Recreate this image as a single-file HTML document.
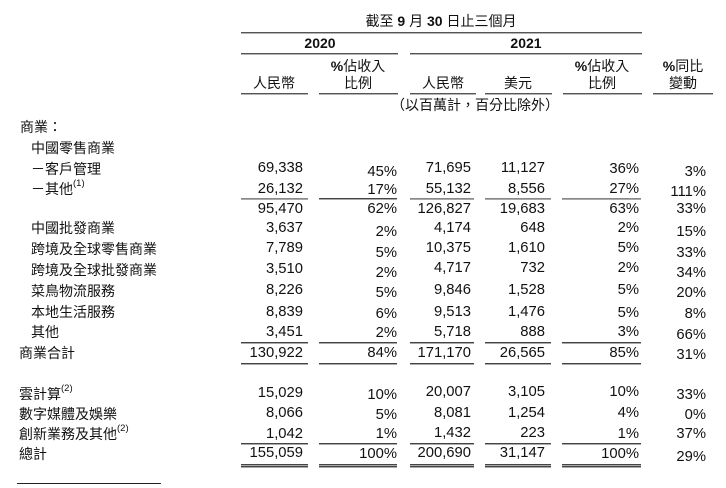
<!DOCTYPE html>
<html><head><meta charset="utf-8">
<style>
html,body{margin:0;padding:0;background:#fff;}
body{width:726px;height:488px;position:relative;overflow:hidden;font-family:"Liberation Sans","Noto Sans CJK TC",sans-serif;color:#111;}
.l{position:absolute;height:20px;line-height:20px;font-size:14px;white-space:nowrap;}
.n{position:absolute;height:20px;line-height:20px;font-size:14.8px;white-space:nowrap;text-align:right;}
.c{position:absolute;height:20px;line-height:20px;font-size:14px;white-space:nowrap;text-align:center;width:200px;}
.a{right:423px}.b{right:329px}.d{right:255px}.e{right:181px}.f{right:87px}.g{right:20px}
.hl{position:absolute;height:1px;background:#555;border-bottom:1px solid #b5b5b5;}
.dl{position:absolute;height:1px;background:#444;border-bottom:1px solid #aaa;}
sup{font-size:9.5px;vertical-align:top;line-height:12px;position:relative;top:-1px;}
b{font-weight:bold;}
</style></head><body>

<!-- header -->
<div class="c" style="left:341px;top:11px;">截至 <b>9</b> 月 <b>30</b> 日止三個月</div>
<div class="hl" style="left:241px;width:401px;top:32px;"></div>
<div class="c" style="left:220px;top:33px;"><b>2020</b></div>
<div class="c" style="left:426px;top:33px;"><b>2021</b></div>
<div class="hl" style="left:241px;width:157px;top:53px;"></div>
<div class="hl" style="left:410px;width:232px;top:53px;"></div>

<div class="c" style="left:258px;top:56px;"><b>%</b>佔收入</div>
<div class="c" style="left:502px;top:56px;"><b>%</b>佔收入</div>
<div class="c" style="left:583px;top:56px;"><b>%</b>同比</div>
<div class="c" style="left:174px;top:73px;">人民幣</div>
<div class="c" style="left:258px;top:73px;">比例</div>
<div class="c" style="left:343px;top:73px;">人民幣</div>
<div class="c" style="left:418px;top:73px;">美元</div>
<div class="c" style="left:502px;top:73px;">比例</div>
<div class="c" style="left:583px;top:73px;">變動</div>

<div class="hl" style="left:241px;width:67px;top:93px;"></div>
<div class="hl" style="left:319px;width:79px;top:93px;"></div>
<div class="hl" style="left:410px;width:66px;top:93px;"></div>
<div class="hl" style="left:485px;width:67px;top:93px;"></div>
<div class="hl" style="left:563px;width:79px;top:93px;"></div>
<div class="hl" style="left:653px;width:60px;top:93px;"></div>

<div class="c" style="left:375px;top:95px;">（以百萬計，百分比除外）</div>

<!-- labels -->
<div class="l" style="left:20px;top:117px;">商業：</div>
<div class="l" style="left:31px;top:138px;">中國零售商業</div>
<div class="l" style="left:31px;top:159px;">－客戶管理</div>
<div class="l" style="left:31px;top:179px;">－其他<sup>(1)</sup></div>
<div class="l" style="left:31px;top:218px;">中國批發商業</div>
<div class="l" style="left:31px;top:239px;">跨境及全球零售商業</div>
<div class="l" style="left:31px;top:260px;">跨境及全球批發商業</div>
<div class="l" style="left:31px;top:281px;">菜鳥物流服務</div>
<div class="l" style="left:31px;top:302px;">本地生活服務</div>
<div class="l" style="left:31px;top:322px;">其他</div>
<div class="l" style="left:19px;top:343px;">商業合計</div>
<div class="l" style="left:19px;top:384px;">雲計算<sup>(2)</sup></div>
<div class="l" style="left:19px;top:404px;">數字媒體及娛樂</div>
<div class="l" style="left:19px;top:424px;">創新業務及其他<sup>(2)</sup></div>
<div class="l" style="left:19px;top:444px;">總計</div>

<!-- row: 客戶管理 -->
<div class="n a" style="top:158px;">69,338</div>
<div class="n b" style="top:162px;">45%</div>
<div class="n d" style="top:158px;">71,695</div>
<div class="n e" style="top:158px;">11,127</div>
<div class="n f" style="top:159px;">36%</div>
<div class="n g" style="top:162px;">3%</div>
<!-- 其他(1) -->
<div class="n a" style="top:179px;">26,132</div>
<div class="n b" style="top:180px;">17%</div>
<div class="n d" style="top:179px;">55,132</div>
<div class="n e" style="top:179px;">8,556</div>
<div class="n f" style="top:179px;">27%</div>
<div class="n g" style="top:182px;">111%</div>

<div class="dl" style="left:241px;width:67px;top:198px;background:#888;"></div>
<div class="dl" style="left:319px;width:78px;top:198px;"></div>
<div class="dl" style="left:410px;width:64px;top:198px;background:#888;"></div>
<div class="dl" style="left:485px;width:66px;top:198px;background:#888;"></div>
<div class="dl" style="left:562px;width:79px;top:198px;background:#888;"></div>

<!-- subtotal -->
<div class="n a" style="top:199px;">95,470</div>
<div class="n b" style="top:199px;">62%</div>
<div class="n d" style="top:199px;">126,827</div>
<div class="n e" style="top:199px;">19,683</div>
<div class="n f" style="top:199px;">63%</div>
<div class="n g" style="top:199px;">33%</div>
<!-- 中國批發 -->
<div class="n a" style="top:218px;">3,637</div>
<div class="n b" style="top:222px;">2%</div>
<div class="n d" style="top:218px;">4,174</div>
<div class="n e" style="top:218px;">648</div>
<div class="n f" style="top:218px;">2%</div>
<div class="n g" style="top:222px;">15%</div>
<!-- 跨境零售 -->
<div class="n a" style="top:238px;">7,789</div>
<div class="n b" style="top:243px;">5%</div>
<div class="n d" style="top:238px;">10,375</div>
<div class="n e" style="top:238px;">1,610</div>
<div class="n f" style="top:238px;">5%</div>
<div class="n g" style="top:243px;">33%</div>
<!-- 跨境批發 -->
<div class="n a" style="top:259px;">3,510</div>
<div class="n b" style="top:263px;">2%</div>
<div class="n d" style="top:258px;">4,717</div>
<div class="n e" style="top:258px;">732</div>
<div class="n f" style="top:258px;">2%</div>
<div class="n g" style="top:263px;">34%</div>
<!-- 菜鳥 -->
<div class="n a" style="top:280px;">8,226</div>
<div class="n b" style="top:283px;">5%</div>
<div class="n d" style="top:280px;">9,846</div>
<div class="n e" style="top:280px;">1,528</div>
<div class="n f" style="top:280px;">5%</div>
<div class="n g" style="top:283px;">20%</div>
<!-- 本地 -->
<div class="n a" style="top:302px;">8,839</div>
<div class="n b" style="top:304px;">6%</div>
<div class="n d" style="top:302px;">9,513</div>
<div class="n e" style="top:302px;">1,476</div>
<div class="n f" style="top:303px;">5%</div>
<div class="n g" style="top:304px;">8%</div>
<!-- 其他 -->
<div class="n a" style="top:322px;">3,451</div>
<div class="n b" style="top:323px;">2%</div>
<div class="n d" style="top:322px;">5,718</div>
<div class="n e" style="top:322px;">888</div>
<div class="n f" style="top:322px;">3%</div>
<div class="n g" style="top:325px;">66%</div>

<div class="dl" style="left:241px;width:67px;top:342px;"></div>
<div class="dl" style="left:319px;width:78px;top:342px;"></div>
<div class="dl" style="left:410px;width:64px;top:342px;"></div>
<div class="dl" style="left:485px;width:66px;top:342px;"></div>
<div class="dl" style="left:562px;width:79px;top:342px;"></div>

<!-- 商業合計 -->
<div class="n a" style="top:343px;">130,922</div>
<div class="n b" style="top:343px;">84%</div>
<div class="n d" style="top:343px;">171,170</div>
<div class="n e" style="top:343px;">26,565</div>
<div class="n f" style="top:343px;">85%</div>
<div class="n g" style="top:345px;">31%</div>

<div class="dl" style="left:241px;width:67px;top:363px;"></div>
<div class="dl" style="left:319px;width:78px;top:363px;"></div>
<div class="dl" style="left:410px;width:64px;top:363px;"></div>
<div class="dl" style="left:485px;width:66px;top:363px;"></div>
<div class="dl" style="left:562px;width:79px;top:363px;"></div>

<!-- 雲計算 -->
<div class="n a" style="top:383px;">15,029</div>
<div class="n b" style="top:385px;">10%</div>
<div class="n d" style="top:382px;">20,007</div>
<div class="n e" style="top:382px;">3,105</div>
<div class="n f" style="top:382px;">10%</div>
<div class="n g" style="top:385px;">33%</div>
<!-- 數字媒體 -->
<div class="n a" style="top:403px;">8,066</div>
<div class="n b" style="top:405px;">5%</div>
<div class="n d" style="top:403px;">8,081</div>
<div class="n e" style="top:403px;">1,254</div>
<div class="n f" style="top:403px;">4%</div>
<div class="n g" style="top:405px;">0%</div>
<!-- 創新 -->
<div class="n a" style="top:424px;">1,042</div>
<div class="n b" style="top:424px;">1%</div>
<div class="n d" style="top:423px;">1,432</div>
<div class="n e" style="top:423px;">223</div>
<div class="n f" style="top:424px;">1%</div>
<div class="n g" style="top:424px;">37%</div>

<div class="dl" style="left:241px;width:67px;top:443px;"></div>
<div class="dl" style="left:319px;width:78px;top:443px;"></div>
<div class="dl" style="left:410px;width:64px;top:443px;"></div>
<div class="dl" style="left:485px;width:66px;top:443px;"></div>
<div class="dl" style="left:562px;width:79px;top:443px;"></div>

<!-- 總計 -->
<div class="n a" style="top:443px;">155,059</div>
<div class="n b" style="top:444px;">100%</div>
<div class="n d" style="top:443px;">200,690</div>
<div class="n e" style="top:443px;">31,147</div>
<div class="n f" style="top:444px;">100%</div>
<div class="n g" style="top:447px;">29%</div>

<div class="dl" style="left:241px;width:67px;top:464px;"></div>
<div class="dl" style="left:241px;width:67px;top:466px;"></div>
<div class="dl" style="left:319px;width:78px;top:464px;"></div>
<div class="dl" style="left:319px;width:78px;top:466px;"></div>
<div class="dl" style="left:410px;width:64px;top:464px;"></div>
<div class="dl" style="left:410px;width:64px;top:466px;"></div>
<div class="dl" style="left:485px;width:66px;top:464px;"></div>
<div class="dl" style="left:485px;width:66px;top:466px;"></div>
<div class="dl" style="left:562px;width:79px;top:464px;"></div>
<div class="dl" style="left:562px;width:79px;top:466px;"></div>

<!-- footnote rule -->
<div style="position:absolute;left:17px;width:144px;top:483px;height:1px;background:#222;"></div>

</body></html>
